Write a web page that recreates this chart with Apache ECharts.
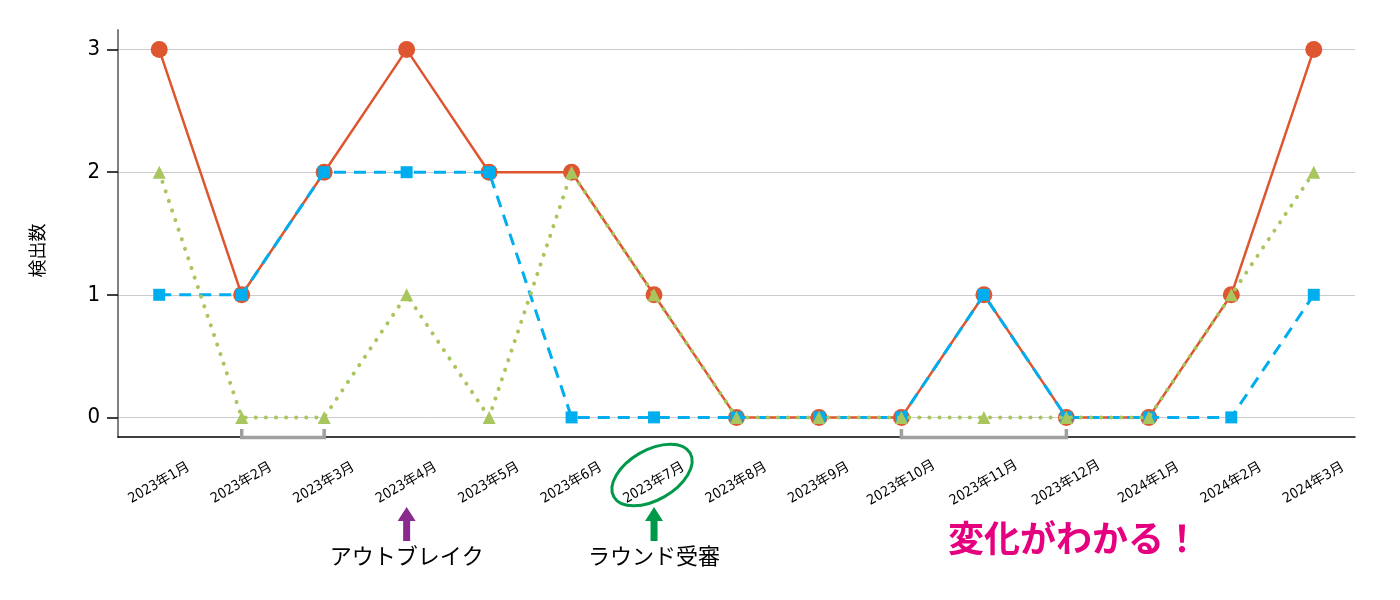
<!DOCTYPE html>
<html>
<head>
<meta charset="utf-8">
<script src="https://cdn.jsdelivr.net/npm/echarts@6/dist/echarts.min.js"></script>
<style>
  html, body { margin: 0; padding: 0; background: #fff; }
  #chart { width: 1400px; height: 600px; }
</style>
</head>
<body>
<div id="chart"></div>
<script>
const months = ['2023年1月', '2023年2月', '2023年3月', '2023年4月', '2023年5月', '2023年6月', '2023年7月',
  '2023年8月', '2023年9月', '2023年10月', '2023年11月', '2023年12月', '2024年1月', '2024年2月', '2024年3月'];
const redValues = [3, 1, 2, 3, 2, 2, 1, 0, 0, 0, 1, 0, 0, 1, 3];
const blueValues = [1, 1, 2, 2, 2, 0, 0, 0, 0, 0, 1, 0, 0, 0, 1];
const greenValues = [2, 0, 0, 1, 0, 2, 1, 0, 0, 0, 0, 0, 0, 1, 2];
const yTicks = [0, 1, 2, 3];
const yMin = -0.16, yMax = 3.16;
// brackets under the axis, and the notes
const brackets = [['2023年2月', '2023年3月'], ['2023年10月', '2023年12月']];
const notes = [
  { month: '2023年4月', text: 'アウトブレイク', color: '#8B2A8E' },
  { month: '2023年7月', text: 'ラウンド受審', color: '#00994A', circle: true }
];
const message = '変化がわかる！';

const narrow = "'Liberation Sans Narrow', 'DejaVu Sans Condensed', 'Noto Sans CJK JP', sans-serif";

const chart = echarts.init(document.getElementById('chart'));
chart.setOption({
  animation: false,
  grid: { left: 118, right: 45, top: 30, bottom: 163 },
  xAxis: {
    type: 'category',
    data: months,
    boundaryGap: true,
    axisLine: { onZero: false, lineStyle: { color: '#000', width: 1.5 } },
    axisTick: { alignWithLabel: true, inside: true, length: 8, lineStyle: { color: '#333', width: 1.5 } },
    axisLabel: {
      interval: 0, rotate: 30, align: 'center', verticalAlign: 'middle', margin: 46,
      fontFamily: narrow, fontSize: 14, color: '#000'
    },
    splitLine: { show: false }
  },
  yAxis: {
    type: 'value',
    min: yMin, max: yMax,
    name: '検出数',
    nameLocation: 'middle',
    nameRotate: 90,
    nameGap: 72,
    nameTextStyle: { fontFamily: 'Noto Sans CJK JP', fontSize: 18, color: '#000', padding: [0, 0, 0, -34] },
    axisLine: { show: true, lineStyle: { color: '#808080', width: 2 } },
    axisTick: { show: true, length: 11, customValues: yTicks, lineStyle: { color: '#000', width: 1.5 } },
    axisLabel: { customValues: yTicks, margin: 18, fontFamily: narrow, fontSize: 22, color: '#000' },
    splitLine: { show: false }
  },
  series: [
    {
      // gridlines only, kept under the data lines
      type: 'line', data: [], z: 1,
      markLine: {
        z: 0, silent: true, symbol: 'none', label: { show: false },
        lineStyle: { color: '#cccccc', width: 1, type: 'solid' },
        data: yTicks.map(v => ({ yAxis: v }))
      }
    },
    {
      type: 'line', data: redValues,
      symbol: 'circle', symbolSize: 17,
      itemStyle: { color: '#DD5630' },
      lineStyle: { color: '#DD5630', width: 2.5 },
      z: 2
    },
    {
      type: 'line', data: blueValues,
      symbol: 'rect', symbolSize: 12,
      itemStyle: { color: '#00AEEF' },
      lineStyle: { color: '#00AEEF', width: 3, type: [12, 8] },
      z: 3
    },
    {
      type: 'line', data: greenValues,
      symbol: 'triangle', symbolSize: 13,
      itemStyle: { color: '#A9C65E' },
      lineStyle: { color: '#A9C65E', width: 4, type: [0.1, 10], cap: 'round' },
      z: 4
    }
  ]
});

// annotations placed from the axes' own scales
const px = (m, v) => chart.convertToPixel({ gridIndex: 0 }, [m, v]);
const axisY = px(months[0], yMin)[1];
const graphics = [];
brackets.forEach(([a, b]) => {
  const x1 = px(a, 0)[0], x2 = px(b, 0)[0];
  graphics.push({
    type: 'polyline', silent: true, z: 100,
    shape: { points: [[x1, axisY - 8], [x1, axisY + 0.5], [x2, axisY + 0.5], [x2, axisY - 8]] },
    style: { stroke: '#a0a0a0', lineWidth: 3.5, fill: null }
  });
});
notes.forEach(n => {
  const x = px(n.month, 0)[0];
  const top = 507, shaft = 541;
  graphics.push({
    type: 'polygon', silent: true,
    shape: { points: [[x, top], [x + 9, top + 14], [x + 3.5, top + 14], [x + 3.5, shaft], [x - 3.5, shaft], [x - 3.5, top + 14], [x - 9, top + 14]] },
    style: { fill: n.color }
  });
  graphics.push({
    type: 'text', silent: true, x: x, y: 556,
    style: { text: n.text, fontFamily: 'Noto Sans CJK JP', fontSize: 22, fill: '#000', align: 'center', verticalAlign: 'middle' }
  });
  if (n.circle) {
    graphics.push({
      type: 'ellipse', silent: true, x: x - 2, y: axisY + 38, rotation: Math.PI / 6,
      shape: { cx: 0, cy: 0, rx: 44, ry: 25 },
      style: { stroke: n.color, lineWidth: 3, fill: null }
    });
  }
});
graphics.push({
  type: 'text', silent: true, x: px('2023年11月', 0)[0] + 90, y: 538,
  style: { text: message, fontFamily: 'Noto Sans CJK JP', fontSize: 36, fontWeight: 'bold', fill: '#E4007F', align: 'center', verticalAlign: 'middle' }
});
chart.setOption({ graphic: graphics });
</script>
</body>
</html>
